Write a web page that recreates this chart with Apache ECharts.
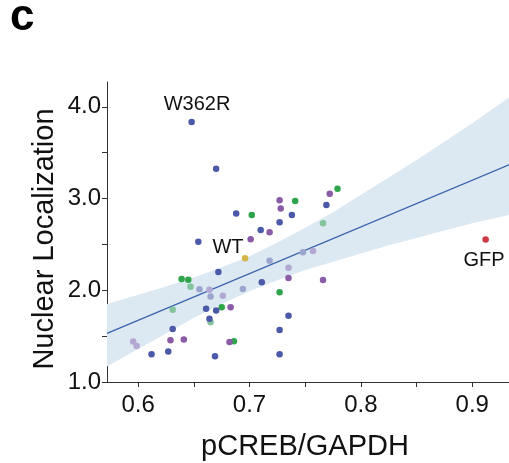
<!DOCTYPE html>
<html>
<head>
<meta charset="utf-8">
<script src="https://cdn.jsdelivr.net/npm/echarts@6/dist/echarts.min.js"></script>
<style>
html,body{margin:0;padding:0;background:#fff;}
#c{width:509px;height:463px;}
</style>
</head>
<body>
<div id="c"></div>
<script>
// ---- data ----
const xTicks = [0.6, 0.65, 0.7, 0.75, 0.8, 0.85, 0.9];
const xTickLabels = [0.6, 0.7, 0.8, 0.9];
const yTicks = [1.0, 1.5, 2.0, 2.5, 3.0, 3.5, 4.0];
const yTickLabels = [1.0, 2.0, 3.0, 4.0];

const blue = [[0.648,3.835],[0.670,3.325],[0.688,2.836],[0.654,2.530],[0.738,2.819],[0.727,2.742],
  [0.710,2.658],[0.769,2.928],[0.672,2.199],[0.711,2.086],[0.661,1.798],[0.670,1.780],[0.664,1.689],
  [0.631,1.579],[0.612,1.303],[0.627,1.332],[0.669,1.281],[0.735,1.721],[0.727,1.568],[0.727,1.303]];
const purple = [[0.727,2.982],[0.728,2.891],[0.718,2.633],[0.701,2.556],[0.772,3.051],[0.735,2.133],
  [0.766,2.111],[0.683,1.816],[0.629,1.456],[0.641,1.463],[0.682,1.437]];
const green = [[0.702,2.819],[0.741,2.972],[0.779,3.106],[0.639,2.122],[0.645,2.115],[0.727,1.977],
  [0.675,1.816],[0.686,1.445]];
const teal = [[0.766,2.731],[0.647,2.038],[0.631,1.787],[0.665,1.652]];
const lavBlue = [[0.748,2.414],[0.655,2.010],[0.694,2.013],[0.718,2.322],[0.665,1.933]];
const lilac = [[0.757,2.428],[0.664,2.005],[0.676,1.940],[0.735,2.246],[0.5955,1.442],[0.5986,1.393]];
const wt = [[0.696,2.349]];
const gfp = [[0.912,2.552]];

const fitX = [0.572, 0.933];
const fitY = [1.529, 3.368];

const bandX     = [0.572,0.6,0.625,0.65,0.675,0.7,0.725,0.75,0.775,0.8,0.825,0.85,0.875,0.9,0.933];
const bandUpper = [1.85,1.95,2.04,2.14,2.25,2.37,2.52,2.68,2.85,3.04,3.23,3.42,3.62,3.82,4.10];
const bandLower = [1.17,1.36,1.53,1.70,1.85,1.99,2.11,2.22,2.31,2.40,2.49,2.57,2.65,2.73,2.82];

const labels = [
  {text:'W362R', x:197, y:104},
  {text:'WT', x:228, y:247},
  {text:'GFP', x:484, y:260}
];

// ---- chart ----
const FONT = 'Liberation Sans, Arial, Helvetica, sans-serif';
const chart = echarts.init(document.getElementById('c'), null, {renderer:'canvas'});

function sc(name, data, color) {
  return {
    name, type:'scatter', data, symbolSize:6.5,
    itemStyle:{color:color, opacity:1}, z:5, silent:true
  };
}

const option = {
  backgroundColor:'#ffffff',
  animation:false,
  grid:{left:107, right:0, top:82, bottom:81, containLabel:false, outerBoundsMode:'none'},
  xAxis:{
    type:'value', min:0.572, max:0.933,
    axisLine:{show:true, onZero:false, lineStyle:{color:'#333', width:1}},
    axisTick:{show:true, length:5, customValues:xTicks, lineStyle:{color:'#333'}},
    axisLabel:{customValues:xTickLabels, margin:11, color:'#111', fontSize:24, fontFamily:FONT,
      formatter:v=>v.toFixed(1)},
    splitLine:{show:false}
  },
  yAxis:{
    type:'value', min:1.0, max:4.27,
    axisLine:{show:true, onZero:false, lineStyle:{color:'#333', width:1}},
    axisTick:{show:true, length:5, customValues:yTicks, lineStyle:{color:'#333'}},
    axisLabel:{customValues:yTickLabels, margin:6, color:'#111', fontSize:24, fontFamily:FONT,
      formatter:v=>v.toFixed(1)},
    splitLine:{show:false}
  },
  series:[
    {
      type:'custom', silent:true, z:1, clip:true,
      data:[[0.7,2.0]],
      renderItem:function(params, api){
        const pts = [];
        for (let i=0;i<bandX.length;i++) pts.push(api.coord([bandX[i], bandUpper[i]]));
        for (let i=bandX.length-1;i>=0;i--) pts.push(api.coord([bandX[i], bandLower[i]]));
        return {type:'polygon', shape:{points:pts}, style:{fill:'#dce8f2', stroke:null}};
      }
    },
    {
      type:'line', silent:true, z:2, symbol:'none',
      data: fitX.map((x,i)=>[x, fitY[i]]),
      lineStyle:{color:'#3a63ad', width:1.3}
    },
    sc('teal', teal, '#82c49b'),
    sc('lilac', lilac, '#b2a8d3'),
    sc('lavBlue', lavBlue, '#9ba5cd'),
    sc('green', green, '#2ea54a'),
    sc('purple', purple, '#8b5ba8'),
    sc('blue', blue, '#4b5aa8'),
    sc('WT', wt, '#d4b546'),
    sc('GFP', gfp, '#cc3a46')
  ],
  graphic:[
    {type:'text', left:null, x:10, y:18, style:{text:'c', font:'bold 44px '+FONT, fill:'#000',
      textAlign:'left', textVerticalAlign:'middle'}},
    {type:'text', x:305, y:447, style:{text:'pCREB/GAPDH', font:'29px '+FONT, fill:'#111',
      textAlign:'center', textVerticalAlign:'middle'}},
    {type:'text', x:45, y:239, rotation:Math.PI/2, style:{text:'Nuclear Localization', font:'29px '+FONT, fill:'#111',
      textAlign:'center', textVerticalAlign:'middle'}}
  ].concat(labels.map(l=>({type:'text', x:l.x, y:l.y, style:{text:l.text, font:'20px '+FONT, fill:'#111',
      textAlign:'center', textVerticalAlign:'middle'}})))
};
chart.setOption(option);
</script>
</body>
</html>
